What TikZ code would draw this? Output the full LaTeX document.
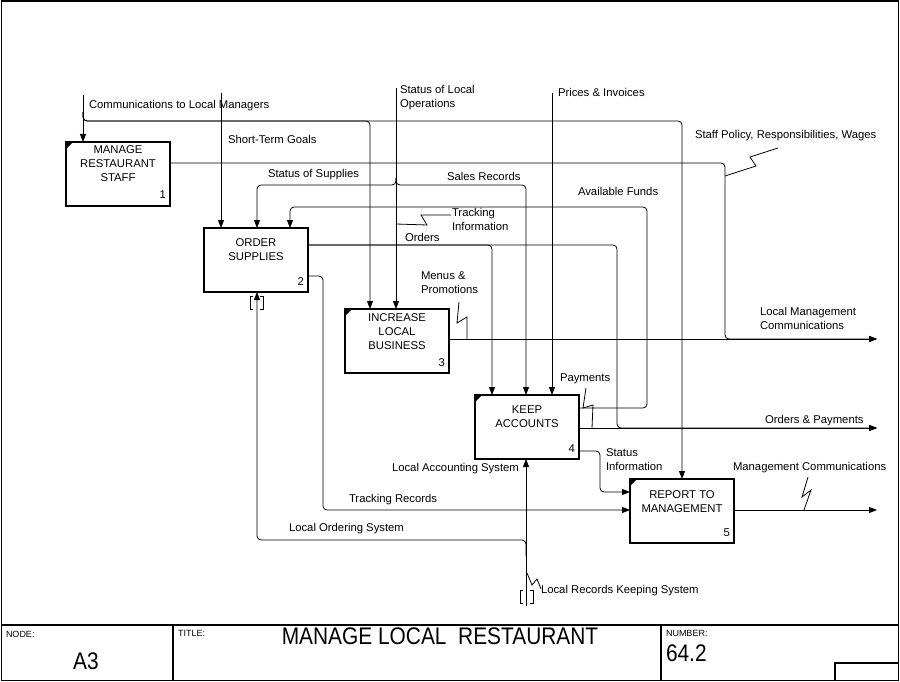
\documentclass[tikz,border=0pt]{standalone}
\usepackage{fontspec}
\usepackage{graphicx}
\setmainfont{Liberation Sans}
\usetikzlibrary{arrows.meta,calc}
\newcommand{\bigtxt}[1]{\scalebox{0.87}[1]{\fontsize{24}{28}\selectfont #1}}
\begin{document}
\begin{tikzpicture}[x=1pt,y=-1pt,
  every node/.style={font=\fontsize{11.3}{14}\selectfont, inner sep=0pt, outer sep=0pt},
  lbl/.style={anchor=base west, align=left},
  boxtxt/.style={anchor=base, align=center},
  numtxt/.style={anchor=base east},
  fn/.style={draw, line width=1.6pt, minimum width=104pt, minimum height=64pt, anchor=north west},
  conn/.style={line width=0.8pt, rounded corners=4pt},
  arr/.style={conn, -{Triangle[length=8pt,width=6pt]}},
  sq/.style={line width=0.8pt},
  frame/.style={line width=1.2pt},
  small/.style={font=\fontsize{9}{10}\selectfont, anchor=base west},
  brk/.style={line width=0.8pt}]
\useasboundingbox (0,0) rectangle (900,682);

% frame and title block
\draw[frame] (1.5,1) rectangle (898.5,680.5);
\draw[frame] (1.5,625) -- (898.5,625);
\draw[frame] (173,625) -- (173,680.5);
\draw[frame] (661,625) -- (661,680.5);
\draw[frame] (835,680.5) |- (898.5,663);
\node[small] (tnode) at (6,637) {NODE:};
\node[small] (ttitle) at (178,636) {TITLE:};
\node[small] (tnum) at (666,636) {NUMBER:};
\node[anchor=base] (tA3) at (86,669) {\bigtxt{A3}};
\node[anchor=base] (tT) at (440,644) {\bigtxt{MANAGE LOCAL\ \ RESTAURANT}};
\node[anchor=base west] (t642) at (666,661) {\bigtxt{64.2}};

% function boxes
\node[fn] (b1) at (66,142) {};
\node[fn] (b2) at (204,228) {};
\node[fn] (b3) at (345,309) {};
\node[fn] (b4) at (475,395) {};
\node[fn] (b5) at (630,479) {};
\foreach \b in {b1,b3,b4,b5}
  \fill (\b.north west) -- ++(7,0) -- ++(-7,7) -- cycle;

% (multi-line base anchor = baseline of last line)
\node[boxtxt] (t1) at ($(b1.north)+(0,40)$) {MANAGE\\RESTAURANT\\STAFF};
\node[boxtxt] (t2) at ($(b2.north)+(0,32)$) {ORDER\\SUPPLIES};
\node[boxtxt] (t3) at ($(b3.north)+(0,40)$) {INCREASE\\LOCAL\\BUSINESS};
\node[boxtxt] (t4) at ($(b4.north)+(0,32)$) {KEEP\\ACCOUNTS};
\node[boxtxt] (t5) at ($(b5.north)+(0,33)$) {REPORT TO\\MANAGEMENT};
\node[numtxt] (n1) at ($(b1.south east)+(-4,-7)$) {1};
\node[numtxt] (n2) at ($(b2.south east)+(-4,-7)$) {2};
\node[numtxt] (n3) at ($(b3.south east)+(-4,-7)$) {3};
\node[numtxt] (n4) at ($(b4.south east)+(-4,-7)$) {4};
\node[numtxt] (n5) at ($(b5.south east)+(-4,-7)$) {5};

% free ends and branch points
\coordinate (s1) at (83,95);
\coordinate (j1) at (83,112);
\coordinate (s2) at (221,93);
\coordinate (s3) at (396,88);
\coordinate (j3) at (396,178);
\coordinate (s4) at (552,93);
\coordinate (o1) at (877,339);
\coordinate (o4) at (877,428);
\coordinate (o5) at (877,510);
\coordinate (m1) at (526,606);
\coordinate (j4) at (526,556);

% controls
\draw[arr] (s1) -- ($(b1.north west)+(17,0)$);
\draw[arr] (j1) |- (370,121) -- ($(b3.north west)+(25,0)$);
\draw[arr] (j1) |- (682,121) -- ($(b5.north west)+(52,0)$);
\draw[arr] (s2) -- ($(b2.north west)+(17,0)$);
\draw[arr] (s3) -- ($(b3.north west)+(51,0)$);
\draw[arr] (j3) |- (257,185) -- ($(b2.north west)+(53,0)$);
\draw[arr] (j3) |- (526,185) -- ($(b4.north west)+(51,0)$);
\draw[arr] (s4) -- ($(b4.north west)+(77,0)$);

% outputs
\draw[arr] ($(b1.north east)+(0,21)$) -- (725,163) -- (725,339) -- (o1);
\draw[arr] ($(b3.north east)+(0,30)$) -- (o1);
\draw[arr] ($(b2.north east)+(0,17)$) -- (617,245) -- (617,428) -- (o4);
\draw[arr] ($(b2.north east)+(0,17)$) -| ($(b4.north west)+(17,0)$);
\draw[arr] ($(b4.north east)+(0,33)$) -- (o4);
\draw[arr] ($(b4.north east)+(0,13)$) -- (647,408) -- (647,207) -| ($(b2.north west)+(86,0)$);
\draw[arr] ($(b4.north east)+(0,56)$) -- (600,451) |- ($(b5.north west)+(0,13)$);
\draw[arr] ($(b2.north east)+(0,48)$) -- (323,276) |- ($(b5.north west)+(0,31)$);
\draw[arr] ($(b5.north east)+(0,31)$) -- (o5);

% mechanisms
\draw[arr] (m1) -- ($(b4.south west)+(51,0)$);
\draw[arr] (j4) |- (257,540) -- ($(b2.south west)+(53,0)$);
% tunnel brackets
\draw[brk] (253,296) -- (250,296) -- (250,309) -- (253,309);
\draw[brk] (260,296) -- (263,296) -- (263,309) -- (260,309);
\draw[brk] (523,590) -- (520,590) -- (520,603) -- (523,603);
\draw[brk] (530,590) -- (533,590) -- (533,603) -- (530,603);

% squiggles
\draw[sq] (396,224) -- (427,225) -- (421,215) -- (451,215);
\draw[sq] (459,302) -- (457,323) -- (467,317) -- (467,339);
\draw[sq] (586,388) -- (583,408) -- (593,405) -- (592,428);
\draw[sq] (778,148) -- (750,157) -- (756,166) -- (725,176);
\draw[sq] (808,477) -- (802,497) -- (811,490) -- (804,510);
\draw[sq] (527,573) -- (532,585) -- (537,579) -- (541,589);

% labels
\node[lbl] (l1) at (89,109) {Communications to Local Managers};
\node[lbl] (l2) at (228,144) {Short-Term Goals};
\node[lbl] (l3) at (400,108) {Status of Local\\Operations};
\node[lbl] (l4) at (558,97) {Prices \& Invoices};
\node[lbl] (l5) at (695,139) {Staff Policy, Responsibilities, Wages};
\node[lbl] (l6) at (268,178) {Status of Supplies};
\node[lbl] (l7) at (447,181) {Sales Records};
\node[lbl] (l8) at (578,195) {Available Funds};
\node[lbl] (l9) at (452,230) {Tracking\\Information};
\node[lbl] (l10) at (405,241) {Orders};
\node[lbl] (l11) at (421,293) {Menus \&\\Promotions};
\node[lbl] (l12) at (760,329) {Local Management\\Communications};
\node[lbl] (l13) at (560,381) {Payments};
\node[lbl] (l14) at (765,423) {Orders \& Payments};
\node[lbl] (l15) at (606,470) {Status\\Information};
\node[lbl] (l16) at (392,471) {Local Accounting System};
\node[lbl] (l17) at (733,470) {Management Communications};
\node[lbl] (l18) at (349,502) {Tracking Records};
\node[lbl] (l19) at (289,531) {Local Ordering System};
\node[lbl] (l20) at (541,593) {Local Records Keeping System};
\end{tikzpicture}
\end{document}
